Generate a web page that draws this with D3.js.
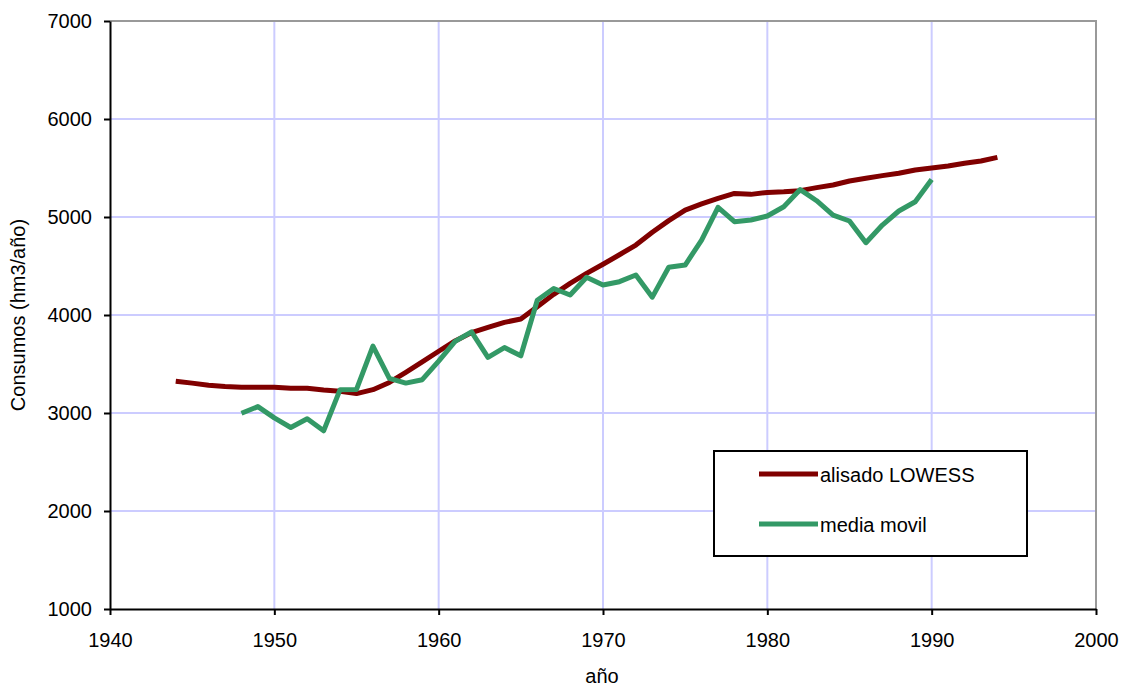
<!DOCTYPE html>
<html>
<head>
<meta charset="utf-8">
<script src="https://cdn.jsdelivr.net/npm/d3@7"></script>
<style>
  body { margin: 0; background: #fff; }
  svg { display: block; font-family: 'Liberation Sans', Arial, sans-serif; }
</style>
</head>
<body>
<div id="chart"></div>
<script>
// alisado LOWESS, 1944-1994
const lowessYears = d3.range(1944, 1995);
const lowessValues = [
  3325, 3305, 3283, 3270, 3262, 3262, 3262, 3252, 3252, 3235,
  3222, 3198, 3238, 3312, 3415, 3522, 3630, 3735, 3820, 3874,
  3925, 3959, 4085, 4211, 4323, 4425, 4518, 4615, 4714, 4844,
  4963, 5071, 5133, 5190, 5241, 5231, 5251, 5258, 5269, 5300,
  5327, 5367, 5395, 5422, 5446, 5480, 5500, 5520, 5548, 5571,
  5609
];

// media movil, 1948-1990
const movilYears = d3.range(1948, 1991);
const movilValues = [
  2997, 3065, 2950, 2852, 2942, 2818, 3238, 3240, 3682, 3354,
  3305, 3340, 3530, 3730, 3828, 3568, 3668, 3584, 4150, 4270,
  4204, 4385, 4306, 4340, 4408, 4182, 4487, 4510, 4765, 5099,
  4952, 4969, 5010, 5105, 5280, 5166, 5020, 4959, 4738, 4918,
  5061, 5156, 5382
];

const xTicks = [1940, 1950, 1960, 1970, 1980, 1990, 2000];
const yTicks = [1000, 2000, 3000, 4000, 5000, 6000, 7000];

const series = [
  { name: 'alisado LOWESS', color: '#800000', years: lowessYears, values: lowessValues },
  { name: 'media movil', color: '#339966', years: movilYears, values: movilValues },
];

const width = 1122;
const height = 688;
const margin = { top: 21, right: 26, bottom: 79, left: 110 };
const innerW = width - margin.left - margin.right;
const innerH = height - margin.top - margin.bottom;
const fontSize = '20px';

const x = d3.scaleLinear().domain([1940, 2000]).range([0, innerW]);
const y = d3.scaleLinear().domain([1000, 7000]).range([innerH, 0]);

const svg = d3.select('#chart')
  .append('svg')
  .attr('width', width)
  .attr('height', height);

const plot = svg.append('g')
  .attr('transform', `translate(${margin.left},${margin.top})`);

// gridlines
plot.append('g')
  .selectAll('line.vgrid')
  .data(xTicks.slice(1, -1))
  .join('line')
  .attr('class', 'vgrid')
  .attr('x1', (d) => x(d)).attr('x2', (d) => x(d))
  .attr('y1', 0).attr('y2', innerH)
  .attr('stroke', '#ccccff')
  .attr('stroke-width', 2);

plot.append('g')
  .selectAll('line.hgrid')
  .data(yTicks.slice(1, -1))
  .join('line')
  .attr('class', 'hgrid')
  .attr('x1', 0).attr('x2', innerW)
  .attr('y1', (d) => y(d)).attr('y2', (d) => y(d))
  .attr('stroke', '#ccccff')
  .attr('stroke-width', 2);

// plot border (top / right)
plot.append('path')
  .attr('d', `M0,${y(7000)}H${x(2000)}V${innerH}`)
  .attr('fill', 'none')
  .attr('stroke', '#999999')
  .attr('stroke-width', 2);

// lines
const line = d3.line()
  .x((d) => x(d[0]))
  .y((d) => y(d[1]));

plot.append('g')
  .selectAll('path.series')
  .data(series)
  .join('path')
  .attr('class', 'series')
  .attr('fill', 'none')
  .attr('stroke', (d) => d.color)
  .attr('stroke-width', 5)
  .attr('stroke-linejoin', 'round')
  .attr('d', (d) => line(d.years.map((yr, i) => [yr, d.values[i]])));

// axes
const xAxis = plot.append('g')
  .attr('transform', `translate(0,${innerH})`)
  .call(d3.axisBottom(x).tickValues(xTicks).tickFormat(d3.format('d')).tickSize(6).tickSizeOuter(0));

const yAxis = plot.append('g')
  .call(d3.axisLeft(y).tickValues(yTicks).tickFormat(d3.format('d')).tickSize(6).tickSizeOuter(0));

[xAxis, yAxis].forEach((a) => {
  a.select('.domain').attr('stroke', '#000').attr('stroke-width', 2);
  a.selectAll('.tick line').attr('stroke', '#000').attr('stroke-width', 2);
  a.selectAll('.tick text').attr('fill', '#000').style('font-size', fontSize);
});
xAxis.selectAll('.tick text').attr('y', 24);
yAxis.selectAll('.tick text').attr('x', -18);

// axis titles
svg.append('text')
  .attr('x', margin.left + innerW / 2 - 1)
  .attr('y', 683)
  .attr('text-anchor', 'middle')
  .style('font-size', fontSize)
  .text('año');

svg.append('text')
  .attr('transform', `translate(25,${margin.top + innerH / 2}) rotate(-90)`)
  .attr('text-anchor', 'middle')
  .style('font-size', fontSize)
  .text('Consumos (hm3/año)');

// legend
const legend = svg.append('g').attr('transform', 'translate(714,451)');
legend.append('rect')
  .attr('width', 313)
  .attr('height', 105)
  .attr('fill', '#fff')
  .attr('stroke', '#000')
  .attr('stroke-width', 2);

const items = legend.selectAll('g.item')
  .data(series)
  .join('g')
  .attr('class', 'item')
  .attr('transform', (d, i) => `translate(45,${23 + i * 50})`);

items.append('line')
  .attr('x1', 0).attr('x2', 59)
  .attr('stroke', (d) => d.color)
  .attr('stroke-width', 5);

items.append('text')
  .attr('x', 61)
  .attr('y', 8)
  .style('font-size', fontSize)
  .text((d) => d.name);
</script>
</body>
</html>
